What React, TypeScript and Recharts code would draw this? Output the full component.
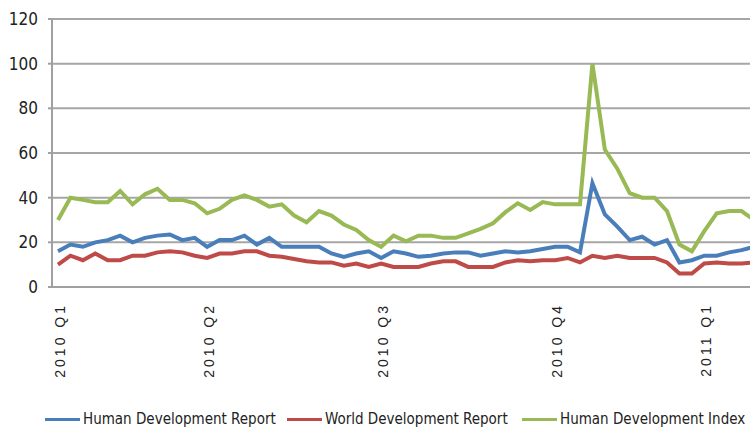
import React from 'react';
import { LineChart, Line, XAxis, YAxis, CartesianGrid } from 'recharts';

// weekly mention counts
const hdReport = [
  16, 19, 18, 20, 21, 23, 20, 22, 23, 23.5, 21, 22, 18, 21, 21, 23, 19, 22, 18, 18,
  18, 18, 15, 13.5, 15, 16, 13, 16, 15, 13.5, 14, 15, 15.5, 15.5, 14, 15, 16, 15.5, 16, 17,
  18, 18, 15.5, 46.5, 32.5, 27, 21, 22.5, 19, 21, 11, 12, 14, 14, 15.5, 16.5, 18,
];
const wdReport = [
  10, 14, 12, 15, 12, 12, 14, 14, 15.5, 16, 15.5, 14, 13, 15, 15, 16, 16, 14, 13.5, 12.5,
  11.5, 11, 11, 9.5, 10.5, 9, 10.5, 9, 9, 9, 10.5, 11.5, 11.5, 9, 9, 9, 11, 12, 11.5, 12,
  12, 13, 11, 14, 13, 14, 13, 13, 13, 11, 6, 6, 10.5, 11, 10.5, 10.5, 11,
];
const hdIndex = [
  30, 40, 39, 38, 38, 43, 37, 41.5, 44, 39, 39, 37.5, 33, 35, 39, 41, 39, 36, 37, 32,
  29, 34, 32, 28, 25.5, 21, 18, 23, 20.5, 23, 23, 22, 22, 24, 26, 28.5, 33.5, 37.5, 34.5, 38,
  37, 37, 37, 100, 61.5, 53, 42, 40, 40, 34, 19, 16, 25, 33, 34, 34, 30,
];

const quarterWeeks = [0, 12, 26, 40, 52];
const quarterLabels = ['2010 Q1', '2010 Q2', '2010 Q3', '2010 Q4', '2011 Q1'];
const yTicks = [0, 20, 40, 60, 80, 100, 120];

const series = [
  { key: 'hdr', name: 'Human Development Report', color: '#4a7ebb' },
  { key: 'wdr', name: 'World Development Report', color: '#be4b48' },
  { key: 'hdi', name: 'Human Development Index', color: '#98b954' },
];

const data = hdIndex.map((v, i) => ({
  week: i,
  hdr: hdReport[i],
  wdr: wdReport[i],
  hdi: v,
}));

const narrowFont = "'Liberation Sans Narrow', 'DejaVu Sans Condensed', 'Liberation Sans', sans-serif";

const QuarterTick = (props: any) => {
  const { x, y, payload } = props;
  const idx = quarterWeeks.indexOf(payload.value);
  if (idx < 0) return null;
  return (
    <text
      transform={`translate(${x + 2},${y}) rotate(-90)`}
      textAnchor="end"
      dominantBaseline="central"
      fontFamily="'Liberation Sans', Arial, sans-serif"
      fontSize={14}
      letterSpacing={3}
      fill="#222"
    >
      {quarterLabels[idx]}
    </text>
  );
};

const legendLeft = [45, 287, 522];

export default function App() {
  return (
    <div
      style={{
        position: 'absolute',
        left: 0,
        top: 0,
        width: 750,
        height: 429,
        overflow: 'hidden',
        background: '#fff',
      }}
    >
      <LineChart
        width={770}
        height={440}
        data={data}
        margin={{ top: 19, right: 10, left: 0, bottom: 53 }}
      >
        <CartesianGrid vertical={false} stroke="#a6a6a6" strokeWidth={2} />
        <XAxis
          dataKey="week"
          type="category"
          ticks={quarterWeeks}
          interval={0}
          height={100}
          padding={{ left: 6, right: 6 }}
          axisLine={{ stroke: '#a0a0a0', strokeWidth: 2 }}
          tickLine={false}
          tickSize={0}
          tickMargin={16}
          tick={<QuarterTick />}
        />
        <YAxis
          width={52}
          domain={[0, 120]}
          ticks={yTicks}
          interval={0}
          axisLine={{ stroke: '#a0a0a0', strokeWidth: 2 }}
          tickLine={{ stroke: '#a0a0a0', strokeWidth: 2 }}
          tickSize={4}
          tickMargin={10}
          tick={{ fill: '#222', fontSize: 17, fontFamily: narrowFont }}
        />
        {series.map((s) => (
          <Line
            key={s.key}
            dataKey={s.key}
            name={s.name}
            type="linear"
            stroke={s.color}
            strokeWidth={4}
            dot={false}
            isAnimationActive={false}
          />
        ))}
      </LineChart>
      {series.map((s, i) => (
        <div
          key={s.key}
          style={{
            position: 'absolute',
            left: legendLeft[i],
            top: 410,
            display: 'flex',
            alignItems: 'center',
            whiteSpace: 'nowrap',
            fontFamily: narrowFont,
            fontSize: 15,
            color: '#222',
          }}
        >
          <span
            style={{
              display: 'inline-block',
              width: 35,
              height: 3,
              background: s.color,
              marginRight: 3,
            }}
          />
          {s.name}
        </div>
      ))}
    </div>
  );
}
